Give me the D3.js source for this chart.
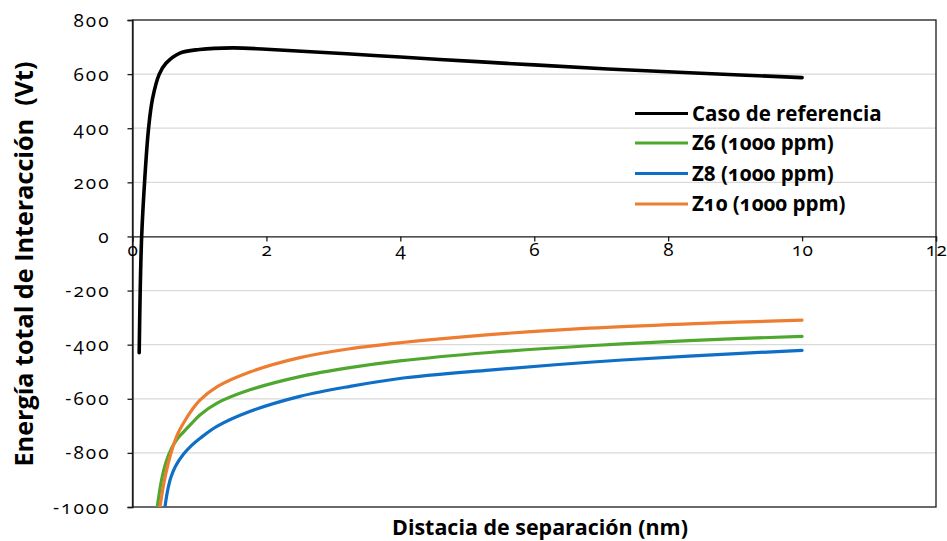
<!DOCTYPE html>
<html>
<head>
<meta charset="utf-8">
<script src="https://cdn.jsdelivr.net/npm/d3@7"></script>
<style>
  html, body { margin: 0; padding: 0; background: #fff; }
  svg text { font-family: "Open Sans", Lato, sans-serif; fill: #000; }
  .num { font-variant-numeric: oldstyle-nums; font-feature-settings: "onum" 1; }
</style>
</head>
<body>
<svg id="chart" width="947" height="541"></svg>
<script>
// Interaction energy vs separation distance
const xTicks = [0, 2, 4, 6, 8, 10, 12];
const yTicks = [-1000, -800, -600, -400, -200, 0, 200, 400, 600, 800];

const seriesNames = ["Caso de referencia", "Z6 (1000 ppm)", "Z8 (1000 ppm)", "Z10 (1000 ppm)"];
const seriesColors = ["#000000", "#4ea72e", "#0f6fc6", "#ed7d31"];

// Caso de referencia
const refX = [0.100, 0.115, 0.137, 0.18, 0.24, 0.30, 0.40, 0.50, 0.70, 1.00, 1.50, 2.00, 3.20, 4.00, 5.15, 6.00, 7.10, 8.40, 10.0];
const refY = [-430, -200, 0, 200, 400, 510, 600, 640, 677, 691, 697, 692, 675, 663, 646, 634, 619, 604, 587];

// Z6 (1000 ppm)
const z6X = [0.37, 0.43, 0.50, 0.58, 0.67, 0.757, 0.88, 1.007, 1.257, 1.754, 2.50, 3.246, 3.99, 5.33, 6.82, 8.31, 10.0];
const z6Y = [-1000, -905, -835, -785, -748, -724, -692, -660, -617, -567, -518, -485, -460, -429, -404, -385, -369];

// Z8 (1000 ppm)
const z8X = [0.485, 0.52, 0.57, 0.64, 0.76, 0.88, 1.01, 1.26, 1.75, 2.50, 3.25, 3.99, 5.33, 6.82, 8.31, 10.0];
const z8Y = [-1000, -945, -893, -850, -805, -773, -746, -702, -647, -591, -554, -525, -494, -465, -442, -421];

// Z10 (1000 ppm)
const z10X = [0.41, 0.47, 0.53, 0.60, 0.68, 0.78, 0.90, 1.007, 1.26, 1.754, 2.50, 3.246, 3.99, 5.33, 6.82, 8.31, 10.0];
const z10Y = [-1000, -910, -842, -780, -727, -682, -637, -605, -556, -501, -448, -415, -393, -363, -339, -323, -309];

const seriesX = [refX, z6X, z8X, z10X];
const seriesY = [refY, z6Y, z8Y, z10Y];

const svg = d3.select("#chart");
const plotLeft = 132.5, plotRight = 936, plotTop = 20, plotBottom = 507;

const x = d3.scaleLinear().domain([0, 12]).range([plotLeft, plotRight]);
const y = d3.scaleLinear().domain([-1000, 800]).range([plotBottom, plotTop]);
const fmt = d => String(d);

// horizontal gridlines
svg.append("g")
  .selectAll("line")
  .data(yTicks.filter(v => v > -1000 && v < 800 && v !== 0))
  .join("line")
  .attr("x1", plotLeft).attr("x2", plotRight)
  .attr("y1", d => y(d)).attr("y2", d => y(d))
  .attr("stroke", "#d9d9d9").attr("stroke-width", 1.2);

// plot frame
svg.append("rect")
  .attr("x", plotLeft).attr("y", plotTop)
  .attr("width", plotRight - plotLeft).attr("height", plotBottom - plotTop)
  .attr("fill", "none").attr("stroke", "#1a1a1a").attr("stroke-width", 1.3);

function styleTickText(sel, spacing) {
  sel.attr("class", "num")
    .style("font-family", "'Open Sans', sans-serif")
    .style("font-size", "19px")
    .style("font-variant-numeric", "oldstyle-nums")
    .style("letter-spacing", spacing)
    .attr("fill", "#000");
}

// y axis
const yAxis = svg.append("g")
  .attr("transform", `translate(${plotLeft},0)`)
  .call(d3.axisLeft(y).tickValues(yTicks).tickSize(5).tickPadding(17).tickFormat(fmt));
yAxis.select(".domain").attr("stroke", "#1a1a1a").attr("stroke-width", 1.3);
yAxis.selectAll(".tick line").attr("stroke", "#1a1a1a").attr("stroke-width", 1.3);
yAxis.selectAll(".tick text").call(styleTickText, "2px");

// x axis through zero
const xAxis = svg.append("g")
  .attr("transform", `translate(0,${y(0)})`)
  .call(d3.axisBottom(x).tickValues(xTicks).tickSize(5).tickPadding(1).tickFormat(fmt));
xAxis.select(".domain").attr("stroke", "#1a1a1a").attr("stroke-width", 1.3);
xAxis.selectAll(".tick line").attr("stroke", "#1a1a1a").attr("stroke-width", 1.3);
xAxis.selectAll(".tick text").call(styleTickText, "0.5px");

// series lines
const line = d3.line()
  .x(d => x(d[0]))
  .y(d => y(d[1]))
  .curve(d3.curveCatmullRom.alpha(0.5));

const defs = svg.append("defs");
defs.append("clipPath").attr("id", "plotClip")
  .append("rect").attr("x", plotLeft).attr("y", plotTop - 2)
  .attr("width", plotRight - plotLeft).attr("height", plotBottom - plotTop + 2);

const seriesG = svg.append("g").attr("clip-path", "url(#plotClip)");
// coloured series first, reference on top
[1, 2, 3, 0].forEach(i => {
  const pts = seriesX[i].map((v, k) => [v, seriesY[i][k]]);
  seriesG.append("path")
    .datum(pts)
    .attr("d", line)
    .attr("fill", "none")
    .attr("stroke", seriesColors[i])
    .attr("stroke-width", i === 0 ? 3.6 : 3.2)
    .attr("stroke-linecap", "round")
    .attr("stroke-linejoin", "round");
});

// legend
const legendRows = [113.5, 143, 173.5, 204];
const lg = svg.append("g");
seriesNames.forEach((name, i) => {
  lg.append("line")
    .attr("x1", 635).attr("x2", 688)
    .attr("y1", legendRows[i]).attr("y2", legendRows[i])
    .attr("stroke", seriesColors[i]).attr("stroke-width", i === 0 ? 3.2 : 3);
  lg.append("text")
    .attr("class", "num")
    .attr("x", 692).attr("y", legendRows[i])
    .attr("dy", "0.36em")
    .style("font-size", "20.5px")
    .style("font-weight", "bold")
    .text(name);
});

// axis titles, sized to a target span
function fitFont(textSel, base, target) {
  textSel.style("font-size", base + "px");
  const w = textSel.node().getComputedTextLength();
  if (w > 0) textSel.style("font-size", (base * target / w).toFixed(2) + "px");
}

const xTitle = svg.append("text")
  .attr("x", 540).attr("y", 535)
  .attr("text-anchor", "middle")
  .style("font-weight", "bold")
  .text("Distacia de separación (nm)");
fitFont(xTitle, 21.5, 296);

const yTitle = svg.append("text")
  .attr("transform", `translate(33,264) rotate(-90)`)
  .attr("text-anchor", "middle")
  .style("font-weight", "bold")
  .attr("xml:space", "preserve")
  .text("Energía total de Interacción  (Vt)");
fitFont(yTitle, 21.5, 405);
</script>
</body>
</html>
